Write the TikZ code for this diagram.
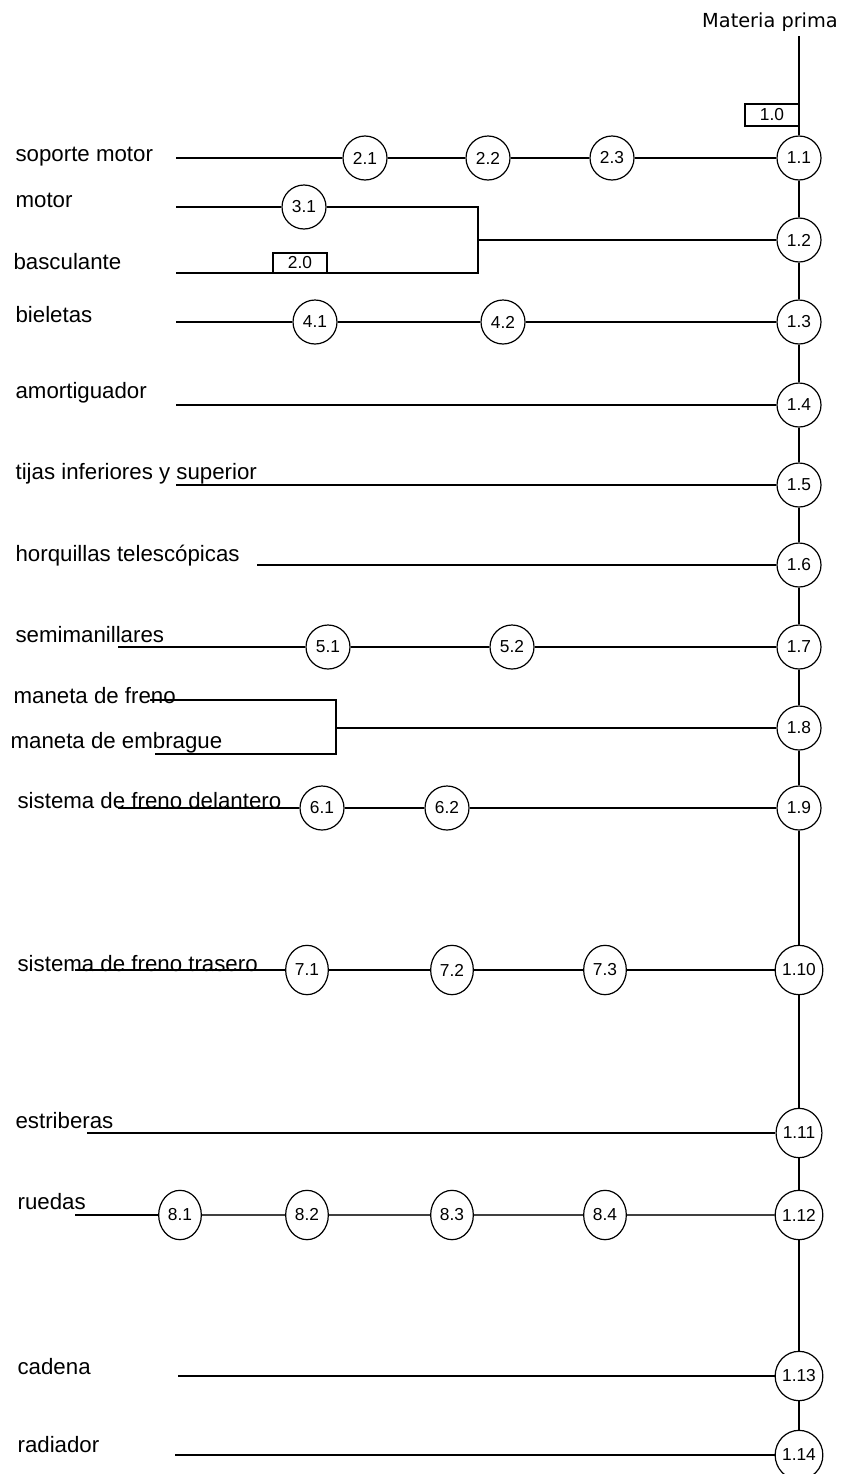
\documentclass[tikz,border=0pt]{standalone}
\usepackage{fontspec}
\setmainfont{Liberation Sans}
\newfontfamily\mpfont{DejaVu Sans}
\usetikzlibrary{shapes.geometric}

\begin{document}
\begin{tikzpicture}[x=0.75pt, y=-0.75pt, line width=0.9pt,
	proc/.style={circle, draw, fill=white, inner sep=0pt, minimum size=33pt, font=\fontsize{13}{15}\selectfont},
	procb/.style={ellipse, draw, fill=white, inner sep=0pt, minimum width=32pt, minimum height=37pt, font=\fontsize{13}{15}\selectfont},
	insp/.style={rectangle, draw, fill=white, inner sep=0pt, minimum width=40.5pt, font=\fontsize{13}{15}\selectfont},
	lbl/.style={anchor=base west, inner sep=0pt, font=\fontsize{16.7}{20}\selectfont}]

		\useasboundingbox (0,0) rectangle (847,1474);

		\node[font=\mpfont\fontsize{14.5}{17}\selectfont] (mat) at (770,22) {Materia prima};
		\coordinate (top) at (799,36);
		\coordinate (bottom) at (799,1474);
		\node[insp, minimum height=16.5pt] (i10) at (772,115) {1.0};

		% operaciones principales
		\node[proc] (p11) at (799,158) {1.1};
		\node[proc] (p12) at (799,240) {1.2};
		\node[proc] (p13) at (799,322) {1.3};
		\node[proc] (p14) at (799,405) {1.4};
		\node[proc] (p15) at (799,485) {1.5};
		\node[proc] (p16) at (799,565) {1.6};
		\node[proc] (p17) at (799,647) {1.7};
		\node[proc] (p18) at (799,728) {1.8};
		\node[proc] (p19) at (799,808) {1.9};
		\node[procb] (p110) at (799,970) {1.10};
		\node[procb] (p111) at (799,1133) {1.11};
		\node[procb] (p112) at (799,1215) {1.12};
		\node[procb] (p113) at (799,1376) {1.13};
		\node[procb] (p114) at (799,1455) {1.14};

		\draw (top) -- (p11) -- (p12) -- (p13) -- (p14) -- (p15) -- (p16) -- (p17) -- (p18) -- (p19) -- (p110) -- (p111) -- (p112) -- (p113) -- (p114) -- (bottom);

		% etiquetas
		\node[lbl] (soporte) at (15,161) {soporte motor};
		\node[lbl] (motor) at (15,207) {motor};
		\node[lbl] (bascul) at (13,269) {basculante};
		\node[lbl] (bielet) at (15,322) {bieletas};
		\node[lbl] (amort) at (15,398) {amortiguador};
		\node[lbl] (tijas) at (15,479) {tijas inferiores y superior};
		\node[lbl] (horq) at (15,561) {horquillas telescópicas};
		\node[lbl] (semim) at (15,642) {semimanillares};
		\node[lbl] (mfreno) at (13,703) {maneta de freno};
		\node[lbl] (membr) at (10,748) {maneta de embrague};
		\node[lbl] (fdel) at (17,808) {sistema de freno delantero};
		\node[lbl] (ftras) at (17,971) {sistema de freno trasero};
		\node[lbl] (estrib) at (15,1128) {estriberas};
		\node[lbl] (ruedas) at (17,1209) {ruedas};
		\node[lbl] (cadena) at (17,1374) {cadena};
		\node[lbl] (radiad) at (17,1452) {radiador};

		% soporte motor
		\coordinate (c2) at (176,158);
		\node[proc] (p21) at (365,158) {2.1};
		\node[proc] (p22) at (488,158) {2.2};
		\node[proc] (p23) at (612,158) {2.3};
		\draw (c2) -- (p21) -- (p22) -- (p23) -- (p11);

		% motor y basculante
		\coordinate (c3) at (176,207);
		\coordinate (c20) at (176,273);
		\coordinate (j2a) at (478,207);
		\coordinate (j2b) at (478,273);
		\coordinate (j2) at (478,240);
		\node[proc] (p31) at (304,207) {3.1};
		\node[insp, minimum height=15pt] (i20) at (300,263) {2.0};
		\draw (c3) -- (p31) -- (j2a) -- (j2b) -- (c20);
		\draw (j2) -- (p12);

		% bieletas
		\coordinate (c4) at (176,322);
		\node[proc] (p41) at (315,322) {4.1};
		\node[proc] (p42) at (503,322) {4.2};
		\draw (c4) -- (p41) -- (p42) -- (p13);

		\coordinate (ca) at (176,405);
		\draw (ca) -- (p14);
		\coordinate (ct) at (176,485);
		\draw (ct) -- (p15);
		\coordinate (ch) at (257,565);
		\draw (ch) -- (p16);

		% semimanillares
		\coordinate (c5) at (118,647);
		\node[proc] (p51) at (328,647) {5.1};
		\node[proc] (p52) at (512,647) {5.2};
		\draw (c5) -- (p51) -- (p52) -- (p17);

		% manetas
		\coordinate (cmf) at (150,700);
		\coordinate (cme) at (155,754);
		\coordinate (j8a) at (336,700);
		\coordinate (j8b) at (336,754);
		\coordinate (j8) at (336,728);
		\draw (cmf) -- (j8a) -- (j8b) -- (cme);
		\draw (j8) -- (p18);

		% freno delantero
		\coordinate (c6) at (118,808);
		\node[proc] (p61) at (322,808) {6.1};
		\node[proc] (p62) at (447,808) {6.2};
		\draw (c6) -- (p61) -- (p62) -- (p19);

		% freno trasero
		\coordinate (c7) at (75,970);
		\node[procb] (p71) at (307,970) {7.1};
		\node[procb] (p72) at (452,970) {7.2};
		\node[procb] (p73) at (605,970) {7.3};
		\draw (c7) -- (p71) -- (p72) -- (p73) -- (p110);

		\coordinate (ce) at (87,1133);
		\draw (ce) -- (p111);

		% ruedas
		\coordinate (c8) at (75,1215);
		\node[procb] (p81) at (180,1215) {8.1};
		\node[procb] (p82) at (307,1215) {8.2};
		\node[procb] (p83) at (452,1215) {8.3};
		\node[procb] (p84) at (605,1215) {8.4};
		\draw (c8) -- (p81);
		\draw[line width=2pt, black!75] (p81) -- (p82) -- (p83) -- (p84) -- (p112);

		\coordinate (cc) at (178,1376);
		\draw (cc) -- (p113);
		\coordinate (cr) at (175,1455);
		\draw (cr) -- (p114);

\end{tikzpicture}
\end{document}
